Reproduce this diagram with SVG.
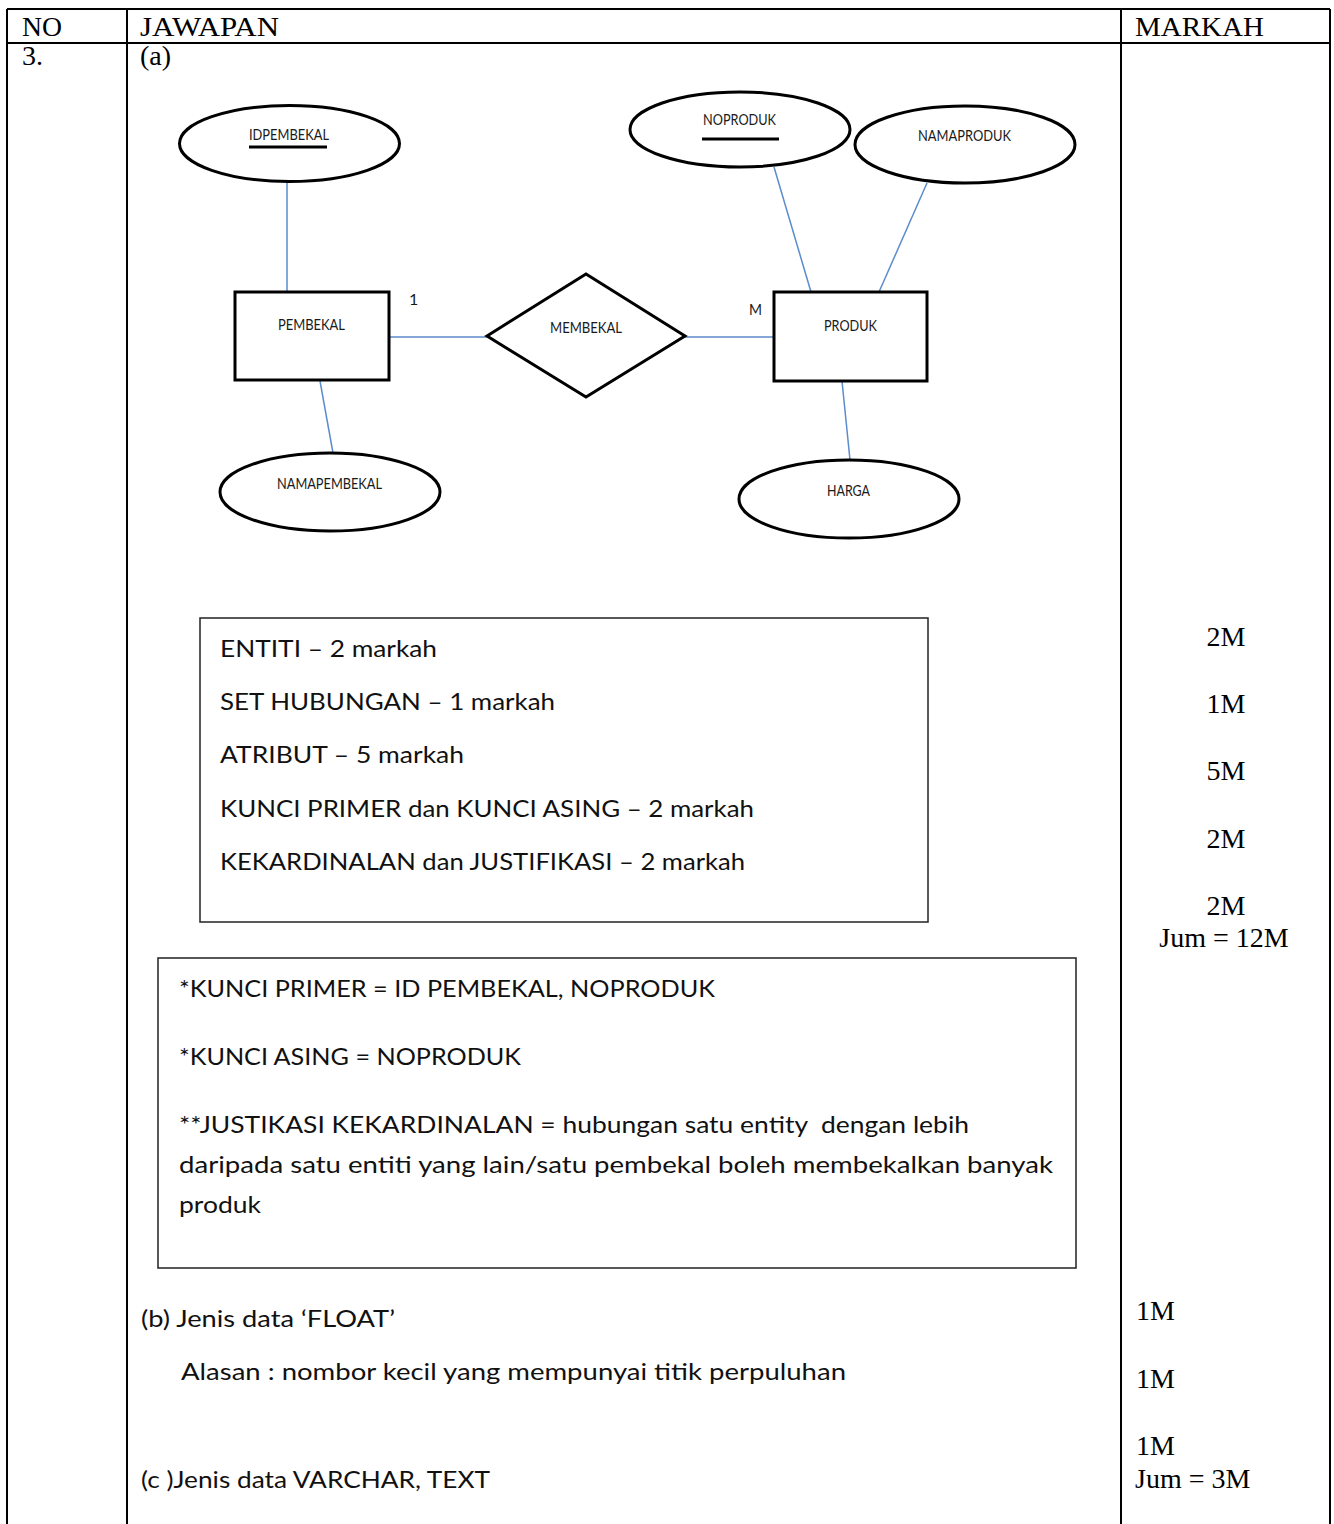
<svg xmlns="http://www.w3.org/2000/svg" width="1334" height="1524" viewBox="0 0 1334 1524">
<style>
.grid{stroke:#000;stroke-width:2;fill:none}
.tnr{font-family:"Liberation Serif","Times New Roman",serif;font-size:28px;fill:#000}
.cal{font-family:Lato,"Open Sans",sans-serif;font-size:24px;fill:#111}
.er{font-family:Lato,"Open Sans",sans-serif;font-size:16px;fill:#1a1a1a}
.shape{stroke:#000;stroke-width:3;fill:#fff}
.conn{stroke:#5b8ccc;stroke-width:1.5;fill:none}
.box{stroke:#222;stroke-width:1.5;fill:none}
.ul{stroke:#000;stroke-width:3}
</style>
<rect width="1334" height="1524" fill="#fff"/>
<g id="table">
<line class="grid" x1="7" y1="9" x2="1330" y2="9"/>
<line class="grid" x1="7" y1="43" x2="1330" y2="43"/>
<line class="grid" x1="7" y1="9" x2="7" y2="1524"/>
<line class="grid" x1="127" y1="9" x2="127" y2="1524"/>
<line class="grid" x1="1121" y1="9" x2="1121" y2="1524"/>
<line class="grid" x1="1330" y1="9" x2="1330" y2="1524"/>
<text class="tnr" x="22" y="36" textLength="40" lengthAdjust="spacingAndGlyphs">NO</text>
<text class="tnr" x="140" y="36" textLength="139" lengthAdjust="spacingAndGlyphs">JAWAPAN</text>
<text class="tnr" x="1135" y="36" textLength="129" lengthAdjust="spacingAndGlyphs">MARKAH</text>
<text class="tnr" x="22" y="65">3.</text>
<text class="tnr" x="140" y="65">(a)</text>
</g>
<g id="connectors">
<line class="conn" x1="287" y1="182" x2="287" y2="292"/>
<line class="conn" x1="320" y1="381" x2="333" y2="453"/>
<line class="conn" x1="389" y1="337" x2="487" y2="337"/>
<line class="conn" x1="685" y1="337" x2="774" y2="337"/>
<line class="conn" x1="774" y1="167" x2="811" y2="292"/>
<line class="conn" x1="927" y1="183" x2="879" y2="292"/>
<line class="conn" x1="842" y1="381" x2="850" y2="460"/>
</g>
<g id="idpembekal">
<ellipse class="shape" cx="289.5" cy="143.5" rx="110" ry="38"/>
<text class="er" x="249" y="140" textLength="80" lengthAdjust="spacingAndGlyphs">IDPEMBEKAL</text>
<line class="ul" x1="249" y1="147" x2="327" y2="147"/>
</g>
<g id="pembekal">
<rect class="shape" x="235" y="292" width="154" height="88"/>
<text class="er" x="278" y="330" textLength="67" lengthAdjust="spacingAndGlyphs">PEMBEKAL</text>
</g>
<g id="namapembekal">
<ellipse class="shape" cx="330" cy="492" rx="110" ry="39"/>
<text class="er" x="277" y="489" textLength="105" lengthAdjust="spacingAndGlyphs">NAMAPEMBEKAL</text>
</g>
<g id="membekal">
<polygon class="shape" points="487,336 586,274 685,336 586,397"/>
<text class="er" x="550" y="333" textLength="72" lengthAdjust="spacingAndGlyphs">MEMBEKAL</text>
</g>
<text class="er" x="409" y="305">1</text>
<text class="er" x="749" y="315" textLength="13" lengthAdjust="spacingAndGlyphs">M</text>
<g id="produk">
<rect class="shape" x="774" y="292" width="153" height="89"/>
<text class="er" x="824" y="331" textLength="53" lengthAdjust="spacingAndGlyphs">PRODUK</text>
</g>
<g id="noproduk">
<ellipse class="shape" cx="740" cy="129.5" rx="110" ry="37.5"/>
<text class="er" x="703" y="125" textLength="73" lengthAdjust="spacingAndGlyphs">NOPRODUK</text>
<line class="ul" x1="702" y1="139" x2="779" y2="139"/>
</g>
<g id="namaproduk">
<ellipse class="shape" cx="965" cy="144.5" rx="110" ry="38.5"/>
<text class="er" x="918" y="141" textLength="93" lengthAdjust="spacingAndGlyphs">NAMAPRODUK</text>
</g>
<g id="harga">
<ellipse class="shape" cx="849" cy="499" rx="110" ry="39"/>
<text class="er" x="827" y="496" textLength="43" lengthAdjust="spacingAndGlyphs">HARGA</text>
</g>
<g id="box-markah">
<rect class="box" x="200" y="618" width="728" height="304"/>
<text class="cal" x="220" y="657" textLength="217" lengthAdjust="spacingAndGlyphs">ENTITI – 2 markah</text>
<text class="cal" x="220" y="710" textLength="335" lengthAdjust="spacingAndGlyphs">SET HUBUNGAN – 1 markah</text>
<text class="cal" x="220" y="763" textLength="244" lengthAdjust="spacingAndGlyphs">ATRIBUT – 5 markah</text>
<text class="cal" x="220" y="817" textLength="534" lengthAdjust="spacingAndGlyphs">KUNCI PRIMER dan KUNCI ASING – 2 markah</text>
<text class="cal" x="220" y="870" textLength="525" lengthAdjust="spacingAndGlyphs">KEKARDINALAN dan JUSTIFIKASI – 2 markah</text>
</g>
<g id="box-kunci">
<rect class="box" x="158" y="958" width="918" height="310"/>
<text class="cal" x="179" y="997" textLength="536" lengthAdjust="spacingAndGlyphs">*KUNCI PRIMER = ID PEMBEKAL, NOPRODUK</text>
<text class="cal" x="179" y="1065" textLength="342" lengthAdjust="spacingAndGlyphs">*KUNCI ASING = NOPRODUK</text>
<text class="cal" x="179" y="1133" textLength="790" lengthAdjust="spacingAndGlyphs" xml:space="preserve">**JUSTIKASI KEKARDINALAN = hubungan satu entity  dengan lebih</text>
<text class="cal" x="179" y="1173" textLength="874" lengthAdjust="spacingAndGlyphs">daripada satu entiti yang lain/satu pembekal boleh membekalkan banyak</text>
<text class="cal" x="179" y="1213" textLength="82" lengthAdjust="spacingAndGlyphs">produk</text>
</g>
<g id="part-bc">
<text class="cal" x="141" y="1327" textLength="254" lengthAdjust="spacingAndGlyphs">(b) Jenis data ‘FLOAT’</text>
<text class="cal" x="181" y="1380" textLength="665" lengthAdjust="spacingAndGlyphs">Alasan : nombor kecil yang mempunyai titik perpuluhan</text>
<text class="cal" x="141" y="1488" textLength="349" lengthAdjust="spacingAndGlyphs">(c )Jenis data VARCHAR, TEXT</text>
</g>
<g id="markah">
<text class="tnr" x="1226" y="646" text-anchor="middle">2M</text>
<text class="tnr" x="1226" y="713" text-anchor="middle">1M</text>
<text class="tnr" x="1226" y="780" text-anchor="middle">5M</text>
<text class="tnr" x="1226" y="848" text-anchor="middle">2M</text>
<text class="tnr" x="1226" y="915" text-anchor="middle">2M</text>
<text class="tnr" x="1224" y="947" text-anchor="middle">Jum = 12M</text>
<text class="tnr" x="1136" y="1320">1M</text>
<text class="tnr" x="1136" y="1388">1M</text>
<text class="tnr" x="1136" y="1455">1M</text>
<text class="tnr" x="1135" y="1488">Jum = 3M</text>
</g>
</svg>
